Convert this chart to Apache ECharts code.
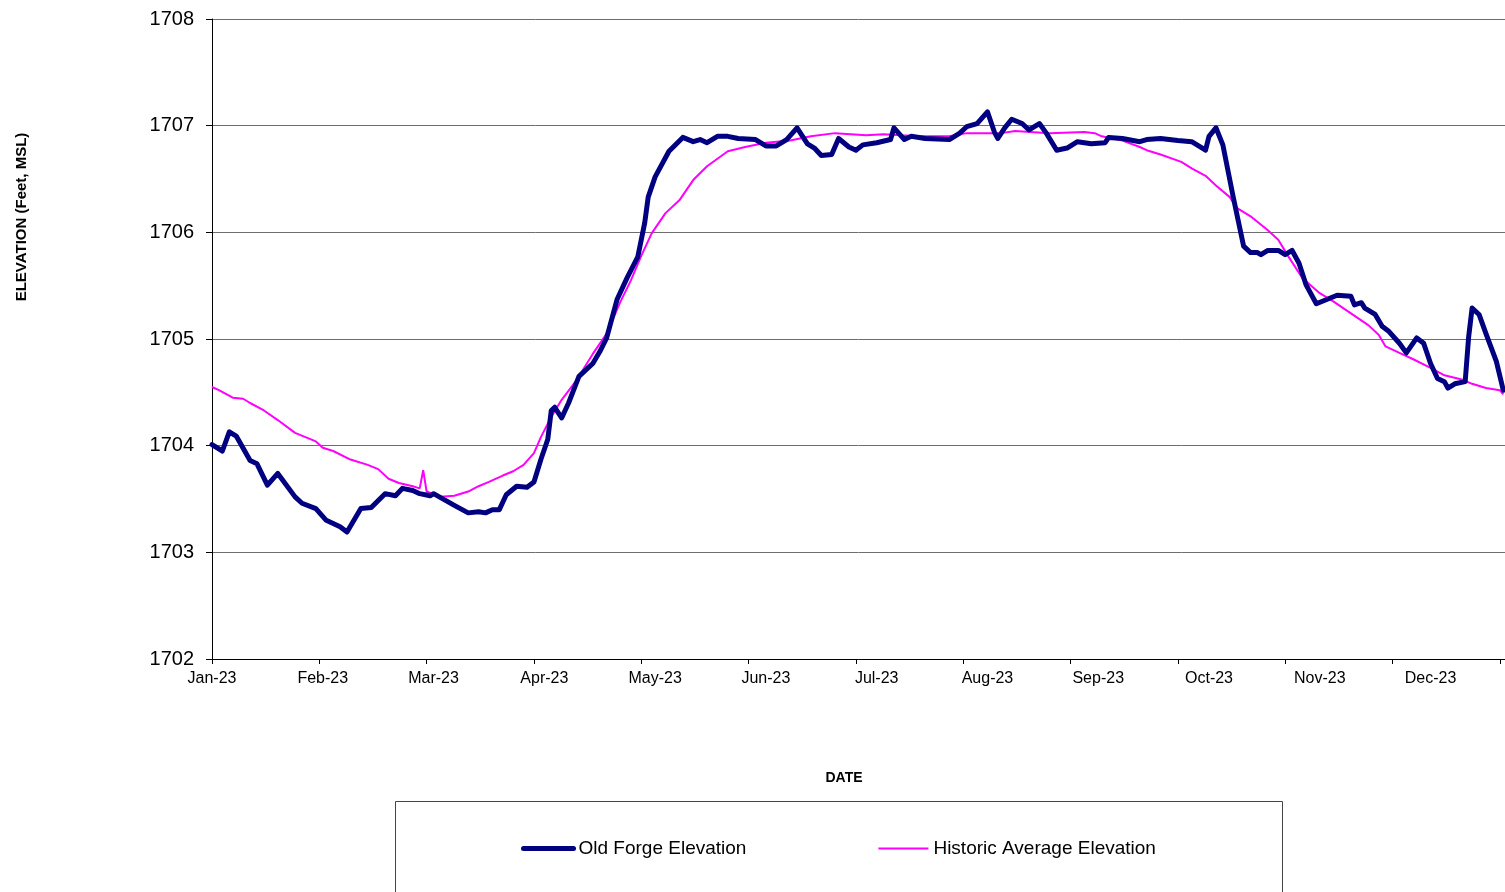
<!DOCTYPE html>
<html>
<head>
<meta charset="utf-8">
<title>Old Forge Elevation</title>
<script src="https://cdn.jsdelivr.net/npm/echarts@6.0.0/dist/echarts.min.js"></script>
<style>
  html, body { margin: 0; padding: 0; background: #fff; }
  #chart { width: 1505px; height: 892px; }
</style>
</head>
<body>
<div id="chart"></div>
<script>
// days counted from Jan 1 2023
const monthLabels = ["Jan-23", "Feb-23", "Mar-23", "Apr-23", "May-23", "Jun-23",
  "Jul-23", "Aug-23", "Sep-23", "Oct-23", "Nov-23", "Dec-23"];
const yTicks = [1702, 1703, 1704, 1705, 1706, 1707, 1708];

const oldForgeDays = [0, 3, 5, 7, 11, 13, 16, 19, 24, 26, 30, 33, 37, 39, 43, 46, 50, 53, 55, 58,
  60, 63, 64, 70, 74, 77, 79, 81, 83, 85, 88, 91, 93, 95, 97, 98, 99, 101, 103, 106,
  110, 112, 114, 117, 120, 123, 125, 126, 128, 132, 136, 139, 141, 143, 146, 149, 152, 157, 160, 163,
  166, 169, 172, 174, 176, 179, 181, 184, 186, 188, 192, 196, 197, 200, 202, 206, 213, 216, 218, 221,
  224, 226, 227, 229, 231, 234, 236, 239, 241, 244, 247, 250, 254, 258, 259, 263, 268, 270, 274, 279,
  283, 287, 288, 290, 292, 295, 298, 300, 302, 303, 305, 308, 310, 312, 314, 316, 319, 322, 325, 329,
  330, 332, 333, 336, 338, 340, 343, 345, 348, 350, 352, 354, 356, 357, 359, 362, 363, 364, 366, 368,
  371, 373];
const oldForgeValues = [1704.01, 1703.95, 1704.13, 1704.09, 1703.86, 1703.83, 1703.63, 1703.74, 1703.52, 1703.46,
  1703.41, 1703.30, 1703.24, 1703.19, 1703.41, 1703.42, 1703.55, 1703.53, 1703.60, 1703.58,
  1703.55, 1703.53, 1703.55, 1703.44, 1703.37, 1703.38, 1703.37, 1703.40, 1703.40, 1703.54,
  1703.62, 1703.61, 1703.66, 1703.87, 1704.06, 1704.33, 1704.36, 1704.26, 1704.40, 1704.65,
  1704.77, 1704.88, 1705.01, 1705.37, 1705.58, 1705.77, 1706.09, 1706.33, 1706.52, 1706.76,
  1706.89, 1706.85, 1706.87, 1706.84, 1706.90, 1706.90, 1706.88, 1706.87, 1706.81, 1706.81,
  1706.87, 1706.98, 1706.83, 1706.79, 1706.72, 1706.73, 1706.88, 1706.80, 1706.77, 1706.82,
  1706.84, 1706.87, 1706.98, 1706.87, 1706.90, 1706.88, 1706.87, 1706.93, 1706.99, 1707.02,
  1707.13, 1706.94, 1706.88, 1706.98, 1707.06, 1707.02, 1706.96, 1707.02, 1706.93, 1706.77,
  1706.79, 1706.85, 1706.83, 1706.84, 1706.89, 1706.88, 1706.85, 1706.87, 1706.88, 1706.86,
  1706.85, 1706.77, 1706.90, 1706.98, 1706.82, 1706.33, 1705.87, 1705.81, 1705.81, 1705.79,
  1705.83, 1705.83, 1705.79, 1705.83, 1705.71, 1705.51, 1705.33, 1705.37, 1705.41, 1705.40,
  1705.32, 1705.34, 1705.29, 1705.23, 1705.12, 1705.07, 1704.96, 1704.87, 1705.01, 1704.96,
  1704.77, 1704.63, 1704.60, 1704.54, 1704.58, 1704.60, 1705.02, 1705.29, 1705.23, 1705.05,
  1704.79, 1704.52];

const historicDays = [0, 2, 6, 9, 11, 15, 19, 24, 27, 30, 32, 35, 40, 45, 48, 51, 54, 58, 60, 61,
  62, 66, 70, 74, 77, 80, 84, 87, 90, 93, 95, 98, 101, 105, 110, 114, 118, 121, 124, 127,
  131, 135, 139, 143, 149, 154, 160, 167, 173, 180, 189, 194, 204, 213, 218, 228, 232, 242, 252, 255,
  257, 263, 268, 270, 274, 280, 283, 287, 290, 294, 296, 300, 305, 308, 311, 315, 320, 324, 329, 334,
  337, 339, 343, 347, 352, 356, 361, 364, 368, 372, 373];
const historicValues = [1704.55, 1704.52, 1704.45, 1704.44, 1704.40, 1704.33, 1704.24, 1704.12, 1704.08, 1704.04,
  1703.98, 1703.95, 1703.87, 1703.82, 1703.78, 1703.69, 1703.65, 1703.62, 1703.60, 1703.77,
  1703.57, 1703.52, 1703.53, 1703.57, 1703.62, 1703.66, 1703.72, 1703.76, 1703.82, 1703.93,
  1704.08, 1704.27, 1704.43, 1704.60, 1704.86, 1705.05, 1705.35, 1705.55, 1705.78, 1705.99,
  1706.18, 1706.30, 1706.49, 1706.62, 1706.76, 1706.80, 1706.84, 1706.86, 1706.90, 1706.93,
  1706.91, 1706.92, 1706.90, 1706.90, 1706.93, 1706.93, 1706.95, 1706.93, 1706.94, 1706.93,
  1706.90, 1706.86, 1706.80, 1706.77, 1706.73, 1706.66, 1706.60, 1706.53, 1706.44, 1706.33,
  1706.23, 1706.15, 1706.02, 1705.93, 1705.77, 1705.57, 1705.43, 1705.35, 1705.24, 1705.13,
  1705.04, 1704.93, 1704.87, 1704.81, 1704.73, 1704.66, 1704.62, 1704.58, 1704.54, 1704.52,
  1704.48];

const zip = (xs, ys) => xs.map((x, i) => [x, ys[i]]);

// ticks every 31 days, the labels sit a little further apart in the original
const tickDays = monthLabels.map((m, i) => i * 31).concat([372]);
const labelDays = monthLabels.map((m, i) => i * 32);

const font = "Liberation Sans, Arial, sans-serif";

const chart = echarts.init(document.getElementById("chart"));
const option = {
  animation: false,
  backgroundColor: "#fff",
  textStyle: { fontFamily: font },
  grid: { left: 212, right: 0, top: 19, bottom: 233 },
  xAxis: {
    type: "value",
    min: 0,
    max: 373.5,
    axisLine: { lineStyle: { color: "#000", width: 1 } },
    axisTick: { customValues: tickDays, length: 5, lineStyle: { color: "#000" } },
    axisLabel: {
      customValues: labelDays,
      formatter: v => monthLabels[Math.round(v / 32)] || "",
      color: "#000",
      fontSize: 16,
      margin: 12
    },
    splitLine: { show: false }
  },
  yAxis: {
    type: "value",
    min: yTicks[0],
    max: yTicks[yTicks.length - 1],
    interval: 1,
    axisLine: { show: true, lineStyle: { color: "#000", width: 1 } },
    axisTick: { show: true, length: 6, lineStyle: { color: "#000" } },
    axisLabel: { color: "#000", fontSize: 20, margin: 18, formatter: v => String(v) },
    splitLine: { lineStyle: { color: "#6e6e6e", width: 1 } }
  },
  legend: {
    left: 521,
    top: 839,
    padding: 0,
    itemWidth: 50,
    itemHeight: 20,
    itemGap: 131,
    textStyle: { color: "#000", fontSize: 19 },
    data: [
      { name: "Old Forge Elevation", itemStyle: { opacity: 0 }, lineStyle: { width: 5, cap: "round" } },
      { name: "Historic Average Elevation", itemStyle: { opacity: 0 }, lineStyle: { width: 2 } }
    ]
  },
  graphic: [
    {
      type: "text",
      x: 22,
      y: 217,
      rotation: Math.PI / 2,
      style: {
        text: "ELEVATION (Feet, MSL)",
        fontSize: 15,
        fontWeight: "bold",
        fill: "#000",
        align: "center",
        verticalAlign: "middle",
        fontFamily: font
      }
    },
    {
      type: "text",
      x: 844,
      y: 778,
      style: {
        text: "DATE",
        fontSize: 14,
        fontWeight: "bold",
        fill: "#000",
        align: "center",
        verticalAlign: "middle",
        fontFamily: font
      }
    },
    {
      type: "rect",
      shape: { x: 395.5, y: 801.5, width: 887, height: 120 },
      style: { fill: "none", stroke: "#444", lineWidth: 1 },
      z: 0
    }
  ],
  series: [
    {
      name: "Old Forge Elevation",
      type: "line",
      symbol: "none",
      data: zip(oldForgeDays, oldForgeValues),
      lineStyle: { color: "#000080", width: 5, cap: "round", join: "round" },
      itemStyle: { color: "#000080" },
      z: 3
    },
    {
      name: "Historic Average Elevation",
      type: "line",
      symbol: "none",
      data: zip(historicDays, historicValues),
      lineStyle: { color: "#ff00ff", width: 2 },
      itemStyle: { color: "#ff00ff" },
      z: 2
    }
  ]
};
chart.setOption(option);
</script>
</body>
</html>
